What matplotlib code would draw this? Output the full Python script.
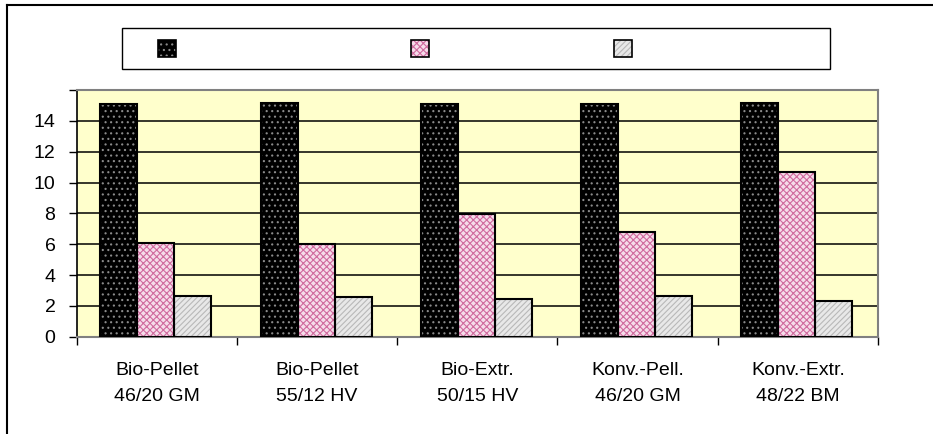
import matplotlib
matplotlib.use("Agg")
import matplotlib.pyplot as plt
from matplotlib.patches import Rectangle
from matplotlib.lines import Line2D
import numpy as np

plt.rcParams['font.family'] = ['Liberation Sans', 'DejaVu Sans']
plt.rcParams['hatch.linewidth'] = 0.8

categories = ["Bio-Pellet\n46/20 GM", "Bio-Pellet\n55/12 HV", "Bio-Extr.\n50/15 HV",
              "Konv.-Pell.\n46/20 GM", "Konv.-Extr.\n48/22 BM"]
series_a = [15.06, 15.17, 15.08, 15.08, 15.17]
series_b = [6.07, 5.99, 7.95, 6.78, 10.69]
series_c = [2.64, 2.55, 2.42, 2.64, 2.31]
ytick_vals = [0, 2, 4, 6, 8, 10, 12, 14, 16]
ytick_labels = ["0", "2", "4", "6", "8", "10", "12", "14", ""]

styles = [
    dict(face="#000000", hatch="...", hcolor="#8a8a8a"),
    dict(face="#f6dcea", hatch="xxxxx", hcolor="#d06a9e"),
    dict(face="#e8e8e8", hatch="//////", hcolor="#b8b8b8"),
]

W, H = 933, 434
fig = plt.figure(figsize=(W / 100, H / 100), dpi=100)
ax = fig.add_axes([76.7 / W, 1 - 336.7 / H, (878 - 76.7) / W, (336.7 - 90) / H])
ax.set_facecolor("#ffffcc")

x = np.arange(len(categories))
bw = 0.231
for i, (vals, st) in enumerate(zip([series_a, series_b, series_c], styles)):
    pos = x + (i - 1) * bw - 0.006
    ax.bar(pos, vals, width=bw, color=st["face"], edgecolor=st["hcolor"],
           hatch=st["hatch"], linewidth=0, zorder=3)
    ax.bar(pos, vals, width=bw, fill=False, edgecolor="black", linewidth=1.5, zorder=4)

ax.set_xlim(-0.5, len(categories) - 0.5)
ax.set_ylim(0, 16)
ax.set_yticks(ytick_vals)
ax.set_yticklabels(ytick_labels)
ax.yaxis.grid(True, color="black", linewidth=1.1, zorder=1)
ax.set_axisbelow(True)

ax.set_xticks(np.arange(-0.5, len(categories), 1.0))
ax.set_xticklabels([])
ax.set_xticks(x, minor=True)
ax.set_xticklabels(categories, minor=True, fontsize=14, linespacing=1.7)
ax.tick_params(axis="x", which="minor", length=0, pad=18)
ax.tick_params(axis="x", which="major", length=6, width=1, color="black", direction="out")
ax.tick_params(axis="y", length=5.8, width=1, color="black", direction="out", labelsize=14, pad=9.5)

for side in ["top", "right", "bottom"]:
    ax.spines[side].set_color("#808080")
    ax.spines[side].set_linewidth(1.5)
ax.spines["left"].set_color("black")
ax.spines["left"].set_linewidth(1.2)

# legend box (entries without text)
fig.patches.append(Rectangle((122 / W, 1 - 69 / H), (830 - 122) / W, 41 / H,
                             transform=fig.transFigure, facecolor="white",
                             edgecolor="black", linewidth=1.0))
for kx, st in zip([158, 411, 614], styles):
    fig.patches.append(Rectangle((kx / W, 1 - 57 / H), 18 / W, 17 / H,
                                 transform=fig.transFigure, facecolor=st["face"],
                                 edgecolor=st["hcolor"], hatch=st["hatch"], linewidth=0))
    fig.patches.append(Rectangle((kx / W, 1 - 57 / H), 18 / W, 17 / H,
                                 transform=fig.transFigure, fill=False,
                                 edgecolor="black", linewidth=1.2))

# outer chart frame (left and top edges visible)
fig.add_artist(Line2D([7 / W, 7 / W], [0, 1 - 5 / H], transform=fig.transFigure,
                      color="black", linewidth=1.5))
fig.add_artist(Line2D([7 / W, 1], [1 - 5 / H, 1 - 5 / H], transform=fig.transFigure,
                      color="black", linewidth=1.5))

fig.savefig("out.png", dpi=100)
